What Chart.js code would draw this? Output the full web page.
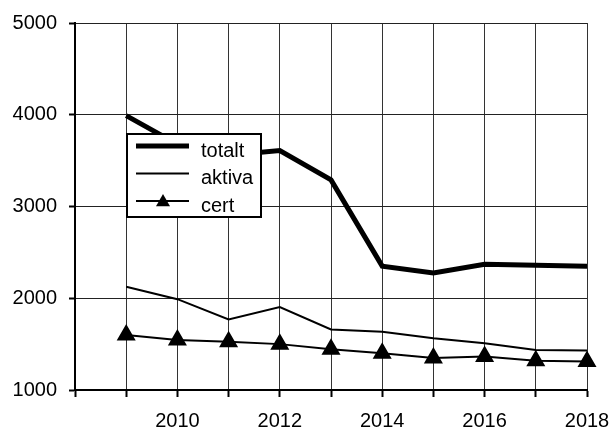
<!DOCTYPE html>
<html>
<head>
<meta charset="utf-8">
<script src="https://cdn.jsdelivr.net/npm/chart.js@4"></script>
<style>
  body { margin: 0; background: #fff; }
  canvas { display: block; }
</style>
</head>
<body>
<canvas id="chart" width="611" height="427"></canvas>
<script>
const years = [2009, 2010, 2011, 2012, 2013, 2014, 2015, 2016, 2017, 2018];
const totalt = [3990, 3680, 3560, 3610, 3290, 2350, 2275, 2370, 2360, 2350];
const aktiva = [2125, 1990, 1770, 1905, 1660, 1635, 1565, 1510, 1435, 1430];
const cert = [1600, 1545, 1525, 1500, 1445, 1400, 1350, 1365, 1320, 1310];
const yTicks = [1000, 2000, 3000, 4000, 5000];

const font = { family: 'Liberation Sans, Arial, sans-serif', size: 20 };

function pts(vals) {
  return years.map((y, i) => ({ x: y, y: vals[i] }));
}

// legend box drawn inside the plot, over the lines
const boxLegend = {
  id: 'boxLegend',
  afterDraw(chart) {
    const ctx = chart.ctx;
    const x0 = 127, y0 = 134, w = 134, h = 83;
    ctx.save();
    ctx.fillStyle = '#fff';
    ctx.fillRect(x0, y0, w, h);
    ctx.strokeStyle = '#000';
    ctx.lineWidth = 2;
    ctx.strokeRect(x0, y0, w, h);
    ctx.font = '20px ' + font.family;
    ctx.textBaseline = 'alphabetic';
    ctx.fillStyle = '#000';
    chart.data.datasets.forEach((ds, i) => {
      const ly = y0 + 12 + i * 27.5;
      ctx.beginPath();
      ctx.lineWidth = ds.borderWidth;
      ctx.moveTo(x0 + 9, ly);
      ctx.lineTo(x0 + 62, ly);
      ctx.stroke();
      if (ds.pointRadius > 0) {
        const cx = x0 + 36, r = 7;
        ctx.beginPath();
        ctx.moveTo(cx, ly - r);
        ctx.lineTo(cx + r, ly + r * 0.75);
        ctx.lineTo(cx - r, ly + r * 0.75);
        ctx.closePath();
        ctx.fill();
      }
      ctx.fillText(ds.label, x0 + 74, ly + 10.5);
    });
    ctx.restore();
  }
};

new Chart(document.getElementById('chart'), {
  type: 'line',
  data: {
    datasets: [
      { label: 'totalt', data: pts(totalt), borderColor: '#000', borderWidth: 5, pointRadius: 0 },
      { label: 'aktiva', data: pts(aktiva), borderColor: '#000', borderWidth: 2, pointRadius: 0 },
      { label: 'cert', data: pts(cert), borderColor: '#000', borderWidth: 2, clip: false,
        pointStyle: 'triangle', pointRadius: 9, pointBackgroundColor: '#000', pointBorderColor: '#000' }
    ]
  },
  options: {
    responsive: false,
    animation: false,
    elements: { line: { tension: 0 } },
    layout: { padding: { top: 23, right: 24, left: 0, bottom: 0 } },
    plugins: { legend: { display: false }, tooltip: { enabled: false } },
    scales: {
      x: {
        type: 'linear',
        min: 2008,
        max: 2018,
        afterFit(s) { s.height = 37; s.paddingLeft = 0; s.paddingRight = 0; },
        ticks: {
          stepSize: 1,
          color: '#000',
          font: font,
          padding: 12,
          maxRotation: 0,
          autoSkip: false,
          callback: v => (v % 2 === 0 && v !== 2008) ? String(v) : ''
        },
        grid: { color: '#333', lineWidth: 1, tickLength: 7, tickColor: '#000', tickWidth: 2 },
        border: { color: '#000', width: 2 }
      },
      y: {
        min: 1000,
        max: 5000,
        afterFit(s) { s.width = 75; s.paddingTop = 0; s.paddingBottom = 0; },
        afterBuildTicks(s) { s.ticks = yTicks.map(v => ({ value: v })); },
        ticks: { color: '#000', font: font, padding: 12, callback: v => String(v) },
        grid: { color: '#222', lineWidth: 1, tickLength: 6, tickColor: '#000', tickWidth: 2 },
        border: { color: '#000', width: 2 }
      }
    }
  },
  plugins: [boxLegend]
});
</script>
</body>
</html>
